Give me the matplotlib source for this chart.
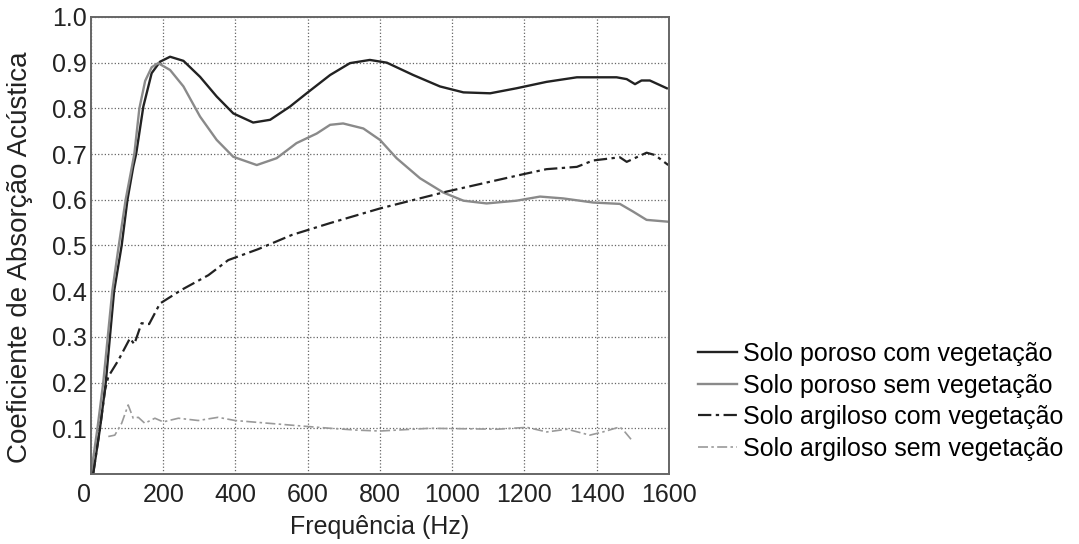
import numpy as np
import matplotlib.pyplot as plt

plt.rcParams['font.family'] = ['Liberation Sans', 'DejaVu Sans']

# Solo poroso com vegetacao (black solid)
f_pc = [6, 25, 41, 64, 85, 101, 117, 125, 145, 168, 191, 219, 256, 302, 348, 394, 449,
        496, 551, 597, 662, 717, 772, 819, 892, 966, 1031, 1105, 1178, 1261, 1345, 1455,
        1483, 1506, 1524, 1547, 1594]
a_pc = [0.0, 0.1, 0.2, 0.4, 0.5, 0.6, 0.672, 0.7, 0.804, 0.877, 0.902, 0.913, 0.904,
        0.869, 0.826, 0.789, 0.769, 0.775, 0.804, 0.833, 0.873, 0.899, 0.906, 0.9, 0.873,
        0.848, 0.835, 0.833, 0.844, 0.858, 0.868, 0.868, 0.864, 0.853, 0.861, 0.861, 0.844]

# Solo poroso sem vegetacao (gray solid)
f_ps = [0, 18, 34, 59, 77, 96, 120, 134, 150, 168, 186, 219, 256, 302, 348, 394, 459, 514,
        569, 625, 662, 698, 754, 800, 846, 911, 975, 1031, 1095, 1178, 1243, 1307, 1390,
        1464, 1501, 1538, 1598]
a_ps = [0.0, 0.1, 0.2, 0.4, 0.5, 0.6, 0.7, 0.8, 0.86, 0.89, 0.899, 0.884, 0.848, 0.782,
        0.731, 0.694, 0.676, 0.691, 0.724, 0.745, 0.764, 0.767, 0.756, 0.731, 0.691, 0.647,
        0.616, 0.598, 0.592, 0.598, 0.607, 0.603, 0.594, 0.591, 0.574, 0.556, 0.552]

# Solo argiloso com vegetacao (black dash-dot)
f_ac = [6, 25, 39, 48, 76, 108, 120, 140, 161, 191, 251, 325, 380, 463, 556, 662, 800,
        985, 1197, 1261, 1345, 1390, 1464, 1483, 1538, 1561, 1598]
a_ac = [0.0, 0.1, 0.184, 0.213, 0.249, 0.297, 0.284, 0.33, 0.328, 0.373, 0.403, 0.435,
        0.468, 0.492, 0.523, 0.549, 0.581, 0.618, 0.656, 0.667, 0.672, 0.686, 0.693, 0.683,
        0.703, 0.698, 0.676]

# Solo argiloso sem vegetacao (gray dash-dot)
f_as = [48, 66, 85, 103, 117, 131, 149, 177, 200, 242, 297, 352, 399, 491, 583, 662, 736,
        800, 938, 1124, 1207, 1262, 1318, 1381, 1417, 1464, 1478, 1497]
a_as = [0.082, 0.085, 0.111, 0.151, 0.122, 0.124, 0.111, 0.122, 0.114, 0.122, 0.117, 0.124,
        0.117, 0.111, 0.105, 0.1, 0.096, 0.094, 0.1, 0.098, 0.102, 0.092, 0.098, 0.085,
        0.092, 0.103, 0.092, 0.074]

labels = ['Solo poroso com vegetação', 'Solo poroso sem vegetação',
          'Solo argiloso com vegetação', 'Solo argiloso sem vegetação']

fig = plt.figure(figsize=(10.79, 5.44), dpi=100)
ax = fig.add_axes([0.0843, 0.1287, 0.5357, 0.8401])

ax.plot(f_pc, a_pc, color='#222222', lw=1.7, label=labels[0])
ax.plot(f_ps, a_ps, color='#8a8a8a', lw=1.7, label=labels[1])
ax.plot(f_ac, a_ac, color='#222222', lw=1.6, ls=(0, (6, 2, 1.5, 2)), label=labels[2])
ax.plot(f_as, a_as, color='#9a9a9a', lw=1.2, ls=(0, (6, 2, 1.5, 2)), label=labels[3])

ax.set_xlim(0, 1600)
ax.set_ylim(0, 1.0)
ax.set_xticks(np.arange(0, 1601, 200))
ax.set_xticklabels(['0'] + [str(v) for v in range(200, 1601, 200)])
ax.set_yticks(np.arange(0.1, 1.01, 0.1))
ax.set_yticklabels(['%.1f' % v for v in np.arange(0.1, 1.01, 0.1)])
ax.xaxis.get_majorticklabels()[0].set_horizontalalignment('right')
ax.tick_params(length=0, labelsize=18, colors='#222222')
ax.tick_params(axis='x', pad=6.5)
ax.tick_params(axis='y', pad=3)
ax.grid(True, ls=':', color='#666666', lw=0.9)

for s in ax.spines.values():
    s.set_color('#666666')
    s.set_linewidth(1.4)

ax.set_xlabel('Frequência (Hz)', fontsize=18, color='#222222')
ax.set_ylabel('Coeficiente de Absorção Acústica', fontsize=20, color='#222222')
ax.xaxis.set_label_coords(0.5, -0.09)
ax.yaxis.set_label_coords(-0.10, 0.475)

fig.legend(loc='upper left', bbox_to_anchor=(0.647, 0.371), frameon=False, fontsize=18,
           handlelength=1.56, handletextpad=0.24, labelspacing=0.3, borderpad=0,
           borderaxespad=0)

fig.savefig('out.png', dpi=100)
